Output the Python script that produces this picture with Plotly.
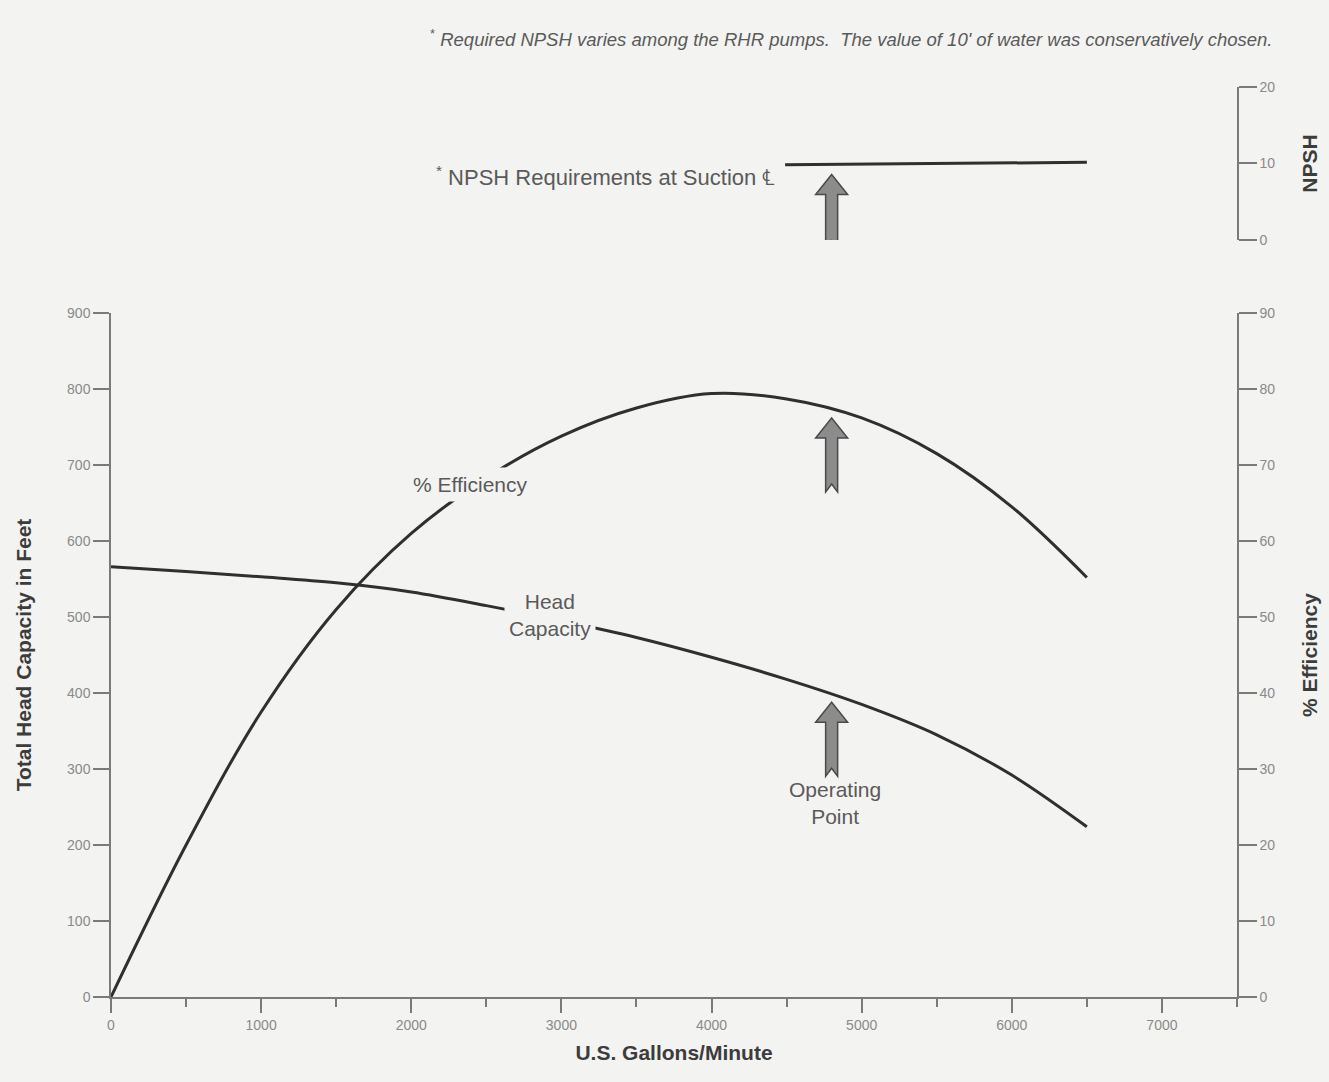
import plotly.graph_objects as go

# ---------------- data ----------------
GPM_HEAD = [0, 500, 1000, 1500, 2000, 2500, 3000, 3500, 4000, 4500, 5000, 5500, 6000, 6500]
HEAD_FT = [566, 560, 553, 545, 533, 515, 495, 473, 447, 418, 385, 345, 292, 224]

GPM_EFF = [0, 500, 1000, 1500, 2000, 2500, 3000, 3500, 4000, 4500, 5000, 5500, 6000, 6500]
EFF_PCT = [0, 20, 37.5, 51, 61, 68.3, 73.8, 77.5, 79.4, 78.7, 76.2, 71.5, 64.5, 55.2]

NPSH_GPM = [4490, 6500]
NPSH_FT = [9.85, 10.15]

OPERATING_GPM = 4800
HEAD_AT_OP = 397
EFF_AT_OP = 77.5
NPSH_AT_OP = 10

X_TICKS = [0, 1000, 2000, 3000, 4000, 5000, 6000, 7000]
HEAD_TICKS = [0, 100, 200, 300, 400, 500, 600, 700, 800, 900]
EFF_TICKS = [0, 10, 20, 30, 40, 50, 60, 70, 80, 90]
NPSH_TICKS = [0, 10, 20]

# ---------------- style ----------------
BG = "#f3f3f1"
LINE = "#2f2f2f"
AXIS = "#7a7a7a"
FAM = "Liberation Sans Narrow, Liberation Sans, Arial, sans-serif"
TICKF = dict(family=FAM, size=14, color="#8a8a8a")
TITLEF = dict(family=FAM, size=21, color="#3c3c3c")
LABELF = dict(family="Liberation Sans, Arial, sans-serif", size=21, color="#5a5a5a")

fig = go.Figure()
fig.add_trace(go.Scatter(x=GPM_HEAD, y=HEAD_FT, mode="lines", line=dict(color=LINE, width=3, shape="spline"),
                         xaxis="x", yaxis="y", hoverinfo="skip"))
fig.add_trace(go.Scatter(x=GPM_EFF, y=EFF_PCT, mode="lines", line=dict(color=LINE, width=3, shape="spline"),
                         xaxis="x", yaxis="y2", hoverinfo="skip"))
fig.add_trace(go.Scatter(x=NPSH_GPM, y=NPSH_FT, mode="lines", line=dict(color=LINE, width=3),
                         xaxis="x2", yaxis="y3", hoverinfo="skip"))

axis_common = dict(showgrid=False, zeroline=False, showline=True, linecolor=AXIS, linewidth=1.5,
                   ticks="outside", tickcolor=AXIS, tickwidth=1.5, tickfont=TICKF)

fig.update_layout(
    width=1329, height=1082,
    paper_bgcolor=BG, plot_bgcolor=BG,
    margin=dict(l=111, r=92, t=87, b=85),
    showlegend=False,
    xaxis=dict(domain=[0, 1], range=[0, 7500], tickvals=X_TICKS, ticklen=14, anchor="y",
               minor=dict(dtick=500, tick0=0, ticks="outside", ticklen=8, tickcolor=AXIS, tickwidth=1.5),
               title=dict(text="<b>U.S. Gallons/Minute</b>", font=TITLEF, standoff=14), **axis_common),
    yaxis=dict(domain=[0, 0.7516], range=[0, 900], tickvals=HEAD_TICKS, ticklen=16, anchor="x",
               title=dict(text="<b>Total Head Capacity in Feet</b>", font=TITLEF, standoff=30), **axis_common),
    yaxis2=dict(overlaying="y", side="right", range=[0, 90], tickvals=EFF_TICKS, ticklen=18, anchor="x",
                title=dict(text="<b>% Efficiency</b>", font=TITLEF, standoff=28), **axis_common),
    xaxis2=dict(domain=[0, 1], range=[0, 7500], visible=False, anchor="y3", matches="x"),
    yaxis3=dict(domain=[0.8319, 1.0], range=[0, 20], tickvals=NPSH_TICKS, ticklen=18, side="right",
                anchor="x2", title=dict(text="<b>NPSH</b>", font=TITLEF, standoff=28), **axis_common),
)

# ---------------- block arrows (pixel-sized, anchored on the operating point) ----------------
def arrow_path(tip):
    head = tip - 20
    tail = tip - 74
    notch = tail + 8
    return (f"M 0,{tip} L 16,{head} L 6,{head} L 6,{tail} L 0,{notch} "
            f"L -6,{tail} L -6,{head} L -16,{head} Z")

for yref, yanc, tip in [("y", HEAD_AT_OP, -7), ("y2", EFF_AT_OP, -10), ("y3", NPSH_AT_OP, -11)]:
    fig.add_shape(type="path", xref="x" if yref != "y3" else "x2", yref=yref,
                  xsizemode="pixel", ysizemode="pixel", xanchor=OPERATING_GPM, yanchor=yanc,
                  path=arrow_path(tip), fillcolor="#8c8c8c", line=dict(color="#4a4a4a", width=1.5),
                  layer="above")

# ---------------- text labels ----------------
fig.add_annotation(x=2391, y=675, xref="x", yref="y", text="% Efficiency", showarrow=False,
                   font=LABELF, bgcolor=BG, borderpad=5)
fig.add_annotation(x=2924, y=503, xref="x", yref="y", text="Head<br>Capacity", showarrow=False,
                   font=LABELF, bgcolor=BG, borderpad=4)
fig.add_annotation(x=OPERATING_GPM + 20, y=255, xref="x", yref="y", text="Operating<br>Point",
                   showarrow=False, font=LABELF)
fig.add_annotation(x=0.5915, y=0.9198, xref="paper", yref="paper", xanchor="right",
                   text="<sup>*</sup> NPSH Requirements at Suction \u2104", showarrow=False,
                   font=dict(family="Liberation Sans, Arial, sans-serif", size=22, color="#5a5a5a"))
fig.add_annotation(x=1.0337, y=1.069, xref="paper", yref="paper", xanchor="right",
                   text="<sup>*</sup> <i>Required NPSH varies among the RHR pumps.\u00a0 The value of 10' of water was conservatively chosen.</i>",
                   showarrow=False,
                   font=dict(family=FAM, size=18.5, color="#5a5a5a"))

fig.write_html("out.html", config={"displayModeBar": False},
               post_script="document.body.style.margin='0';document.body.style.background='#f3f3f1';")
